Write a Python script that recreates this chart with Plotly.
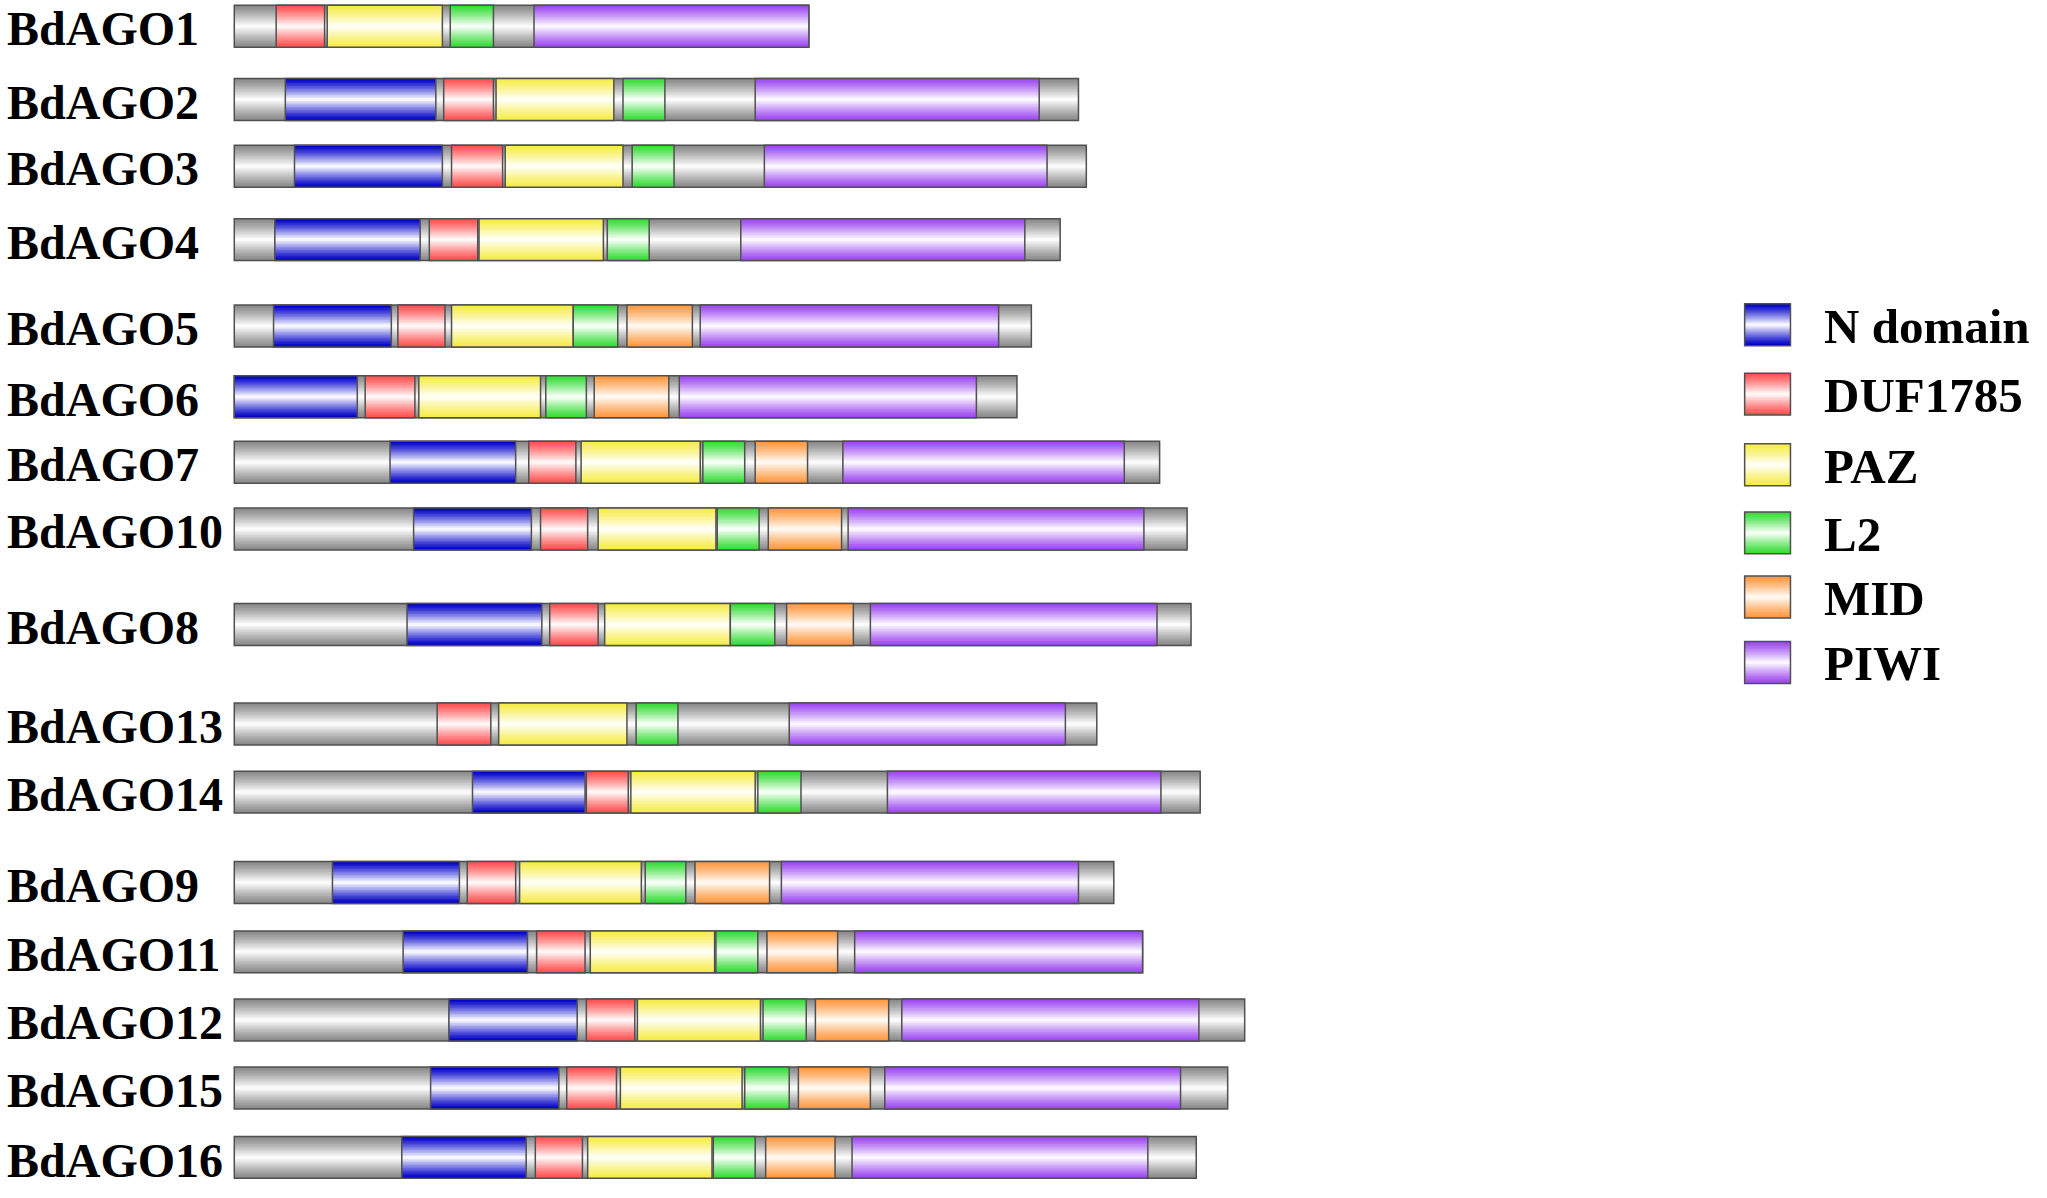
import plotly.graph_objects as go

# ------------------------------------------------------------
# Data: domain positions along each protein (relative units)
# ------------------------------------------------------------
proteins = ['BdAGO1', 'BdAGO2', 'BdAGO3', 'BdAGO4', 'BdAGO5', 'BdAGO6', 'BdAGO7', 'BdAGO10',
            'BdAGO8', 'BdAGO13', 'BdAGO14', 'BdAGO9', 'BdAGO11', 'BdAGO12', 'BdAGO15', 'BdAGO16']
lengths = [439, 645, 651, 631, 609, 598, 707, 728, 731, 659, 738, 672, 694, 772, 759, 735]

n_domain = [None, (39, 154), (46, 159), (31, 142), (30, 120), (0, 94), (119, 215), (137, 227),
            (132, 235), None, (182, 268), (75, 172), (129, 224), (164, 262), (150, 248), (128, 223)]
duf1785 = [(32, 69), (160, 198), (166, 205), (149, 186), (125, 161), (100, 138), (225, 261), (234, 270),
           (241, 278), (155, 196), (269, 301), (178, 215), (231, 268), (269, 306), (254, 292), (230, 266)]
paz = [(71, 159), (200, 290), (207, 297), (187, 282), (166, 259), (141, 234), (265, 356), (278, 368),
       (283, 379), (202, 300), (303, 398), (218, 311), (272, 367), (308, 402), (295, 388), (270, 365)]
l2 = [(165, 198), (297, 329), (304, 336), (285, 317), (259, 293), (238, 269), (358, 390), (369, 401),
      (379, 413), (307, 339), (400, 433), (314, 345), (368, 400), (404, 437), (390, 424), (366, 398)]
mid = [None, None, None, None, (300, 350), (275, 332), (398, 438), (408, 464),
       (422, 473), None, None, (352, 409), (407, 461), (444, 500), (431, 486), (406, 459)]
piwi = [(229, 439), (398, 615), (405, 621), (387, 604), (356, 584), (340, 567), (465, 680), (469, 695),
        (486, 705), (424, 635), (499, 708), (418, 645), (474, 694), (510, 737), (497, 723), (472, 698)]

legend_names = ['N domain', 'DUF1785', 'PAZ', 'L2', 'MID', 'PIWI']

# ------------------------------------------------------------
# Layout helpers (row centres, bar thickness, colours)
# ------------------------------------------------------------
row_y = [20, 76, 127, 183, 249, 303, 353, 404, 477, 553, 605, 674, 727, 779, 831, 884]
legend_y = [248, 301, 355, 407, 456, 506]
legend_x = (1154, 1189)
BAR_H = 32

colors = {
    'grey': ('#8a8a8a', '#fbfbfb'),
    'N domain': ('#0000c8', '#f6f6ff'),
    'DUF1785': ('#ff5050', '#fff6f6'),
    'PAZ': ('#f6ec48', '#fffff6'),
    'L2': ('#36dc36', '#f6fff6'),
    'MID': ('#ff9840', '#fff8f0'),
    'PIWI': ('#9c48f0', '#fbf6ff'),
}


def mix(c1, c2, t):
    a = [int(c1[i:i + 2], 16) for i in (1, 3, 5)]
    b = [int(c2[i:i + 2], 16) for i in (1, 3, 5)]
    return 'rgb({},{},{})'.format(*[round(x + (y - x) * t) for x, y in zip(a, b)])


def add_segments(fig, segs, ys, edge, center, levels=14):
    base = [s for s, e in segs]
    lens = [e - s for s, e in segs]
    # concentric bars -> cylinder-like shading
    for k in range(levels):
        t = (k / (levels - 1)) ** 1.15
        fig.add_trace(go.Bar(
            orientation='h', base=base, x=lens, y=ys,
            width=BAR_H * (1 - k / levels),
            marker=dict(color=mix(edge, center, t), line=dict(width=0)),
            hoverinfo='skip', showlegend=False))
    fig.add_trace(go.Bar(
        orientation='h', base=base, x=lens, y=ys, width=BAR_H,
        marker=dict(color='rgba(0,0,0,0)', line=dict(color='#505050', width=1.5)),
        hoverinfo='skip', showlegend=False))


fig = go.Figure()

# backbone
add_segments(fig, [(0, L) for L in lengths], row_y, *colors['grey'])

# domains (+ legend swatch)
domains = [n_domain, duf1785, paz, l2, mid, piwi]
for name, dom, ly in zip(legend_names, domains, legend_y):
    segs, ys = [], []
    for seg, y in zip(dom, row_y):
        if seg is not None:
            segs.append(seg)
            ys.append(y)
    segs.append(legend_x)
    ys.append(ly)
    add_segments(fig, segs, ys, *colors[name])

# protein labels
for name, y in zip(proteins, row_y):
    fig.add_annotation(x=-175, y=y + 2, text='<b>' + name + '</b>', showarrow=False,
                       xanchor='left', yanchor='middle',
                       font=dict(family='Liberation Serif, Times New Roman, serif', size=48, color='black'))

# legend labels
for name, y in zip(legend_names, legend_y):
    fig.add_annotation(x=1213, y=y + 1, text='<b>' + name + '</b>', showarrow=False,
                       xanchor='left', yanchor='middle',
                       font=dict(family='Liberation Serif, Times New Roman, serif', size=49, color='black'))

fig.update_layout(
    width=2047, height=1198,
    margin=dict(l=0, r=0, t=0, b=0),
    barmode='overlay',
    plot_bgcolor='white', paper_bgcolor='white',
    xaxis=dict(range=[-179, 1385], visible=False, fixedrange=True),
    yaxis=dict(range=[915, 0], visible=False, fixedrange=True),
)

fig.write_html("out.html", post_script="document.body.style.margin='0';",
               config={'displayModeBar': False})
